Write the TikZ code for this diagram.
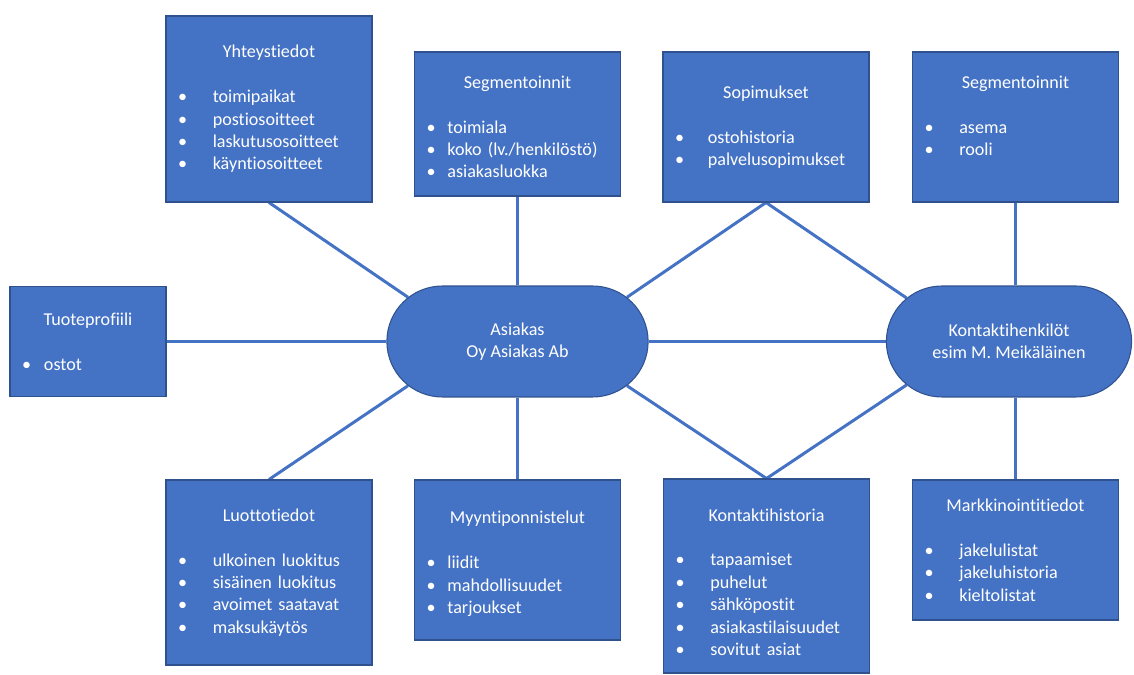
\documentclass[tikz,border=0pt]{standalone}
\usepackage{fontspec}
\setmainfont{Carlito}[Ligatures=NoCommon]
\usetikzlibrary{shapes.misc, backgrounds}
\definecolor{boxblue}{HTML}{4472C4}
\definecolor{edgeblue}{HTML}{2F528F}
\newcommand{\boxhead}[1]{{\noindent\centering #1\par}\vspace{\baselineskip}}
\newcommand{\bitem}[2][19.8pt]{\noindent\makebox[#1][l]{\textbullet}#2\par}
\tikzset{
  infobox/.style={rectangle, draw=edgeblue, fill=boxblue, line width=0.6pt,
                  text=white, text width=3.64cm, inner xsep=0.24cm,
                  font=\fontsize{10.3pt}{12.75pt}\selectfont},
  hub/.style={rounded rectangle, draw=edgeblue, fill=boxblue, line width=0.6pt,
              text=white, align=center, minimum height=2.22cm,
              font=\fontsize{10.3pt}{12.75pt}\selectfont},
  link/.style={draw=boxblue, line width=1.7pt},
}
\begin{document}
\begin{tikzpicture}[x=0.02cm, y=-0.02cm]
  \useasboundingbox (0,0) rectangle (1134,675);
  \node[hub, minimum width=5.46cm] (asiakas) at (517.5,341.5) {Asiakas\\Oy Asiakas Ab};
  \node[hub, minimum width=5.14cm] (kontakti) at (1009,341.5) {Kontaktihenkilöt\\esim M. Meikäläinen};
  \node[infobox, minimum height=3.72cm] (yht) at (269,109)
    {\boxhead{Yhteystiedot}\bitem{toimipaikat}\bitem{postiosoitteet}\bitem{laskutusosoitteet}\bitem{käyntiosoitteet}};
  \node[infobox, minimum height=2.88cm] (seg) at (517.5,124)
    {\boxhead{Segmentoinnit}\bitem[11.9pt]{toimiala}\bitem[11.9pt]{koko (lv./henkilöstö)}\bitem[11.9pt]{asiakasluokka}\vspace{-0.12cm}};
  \node[infobox, minimum height=3.0cm] (sop) at (766,127)
    {\boxhead{Sopimukset}\bitem[18.7pt]{ostohistoria}\bitem[18.7pt]{palvelusopimukset}};
  \node[infobox, minimum height=3.0cm] (segk) at (1015.5,127)
    {\boxhead{Segmentoinnit}\bitem{asema}\bitem{rooli}\vspace{0.44cm}};
  \node[infobox, minimum height=2.2cm, text width=2.64cm] (tuote) at (88,341.5)
    {\boxhead{Tuoteprofiili}\bitem[12.5pt]{ostot}};
  \node[infobox, minimum height=3.7cm] (luotto) at (269,572.5)
    {\boxhead{Luottotiedot}\bitem{ulkoinen luokitus}\bitem{sisäinen luokitus}\bitem{avoimet saatavat}\bitem{maksukäytös}};
  \node[infobox, minimum height=3.2cm] (myynti) at (517.5,560)
    {\boxhead{Myyntiponnistelut}\bitem[11.9pt]{liidit}\bitem[11.9pt]{mahdollisuudet}\bitem[11.9pt]{tarjoukset}\vspace{-0.16cm}};
  \node[infobox, minimum height=3.88cm] (khist) at (766.5,576)
    {\boxhead{Kontaktihistoria}\bitem{tapaamiset}\bitem{puhelut}\bitem{sähköpostit}\bitem{asiakastilaisuudet}\bitem{sovitut asiat}\vspace{-0.24cm}};
  \node[infobox, minimum height=2.8cm] (markk) at (1015.5,550)
    {\boxhead{Markkinointitiedot}\bitem{jakelulistat}\bitem{jakeluhistoria}\bitem{kieltolistat}};
  \begin{scope}[on background layer]
    \foreach \a/\b in {yht.south/asiakas.158, seg.south/asiakas.north, sop.south/asiakas.22,
                       sop.south/kontakti.157, tuote.east/asiakas.west, asiakas.east/kontakti.west,
                       luotto.north/asiakas.202, myynti.north/asiakas.south,
                       khist.north/asiakas.338, khist.north/kontakti.203} {
      \draw[link] (\a) -- (\b);
    }
    \draw[link] (segk.south) -- (segk.south |- kontakti.north);
    \draw[link] (markk.north) -- (markk.north |- kontakti.south);
  \end{scope}
\end{tikzpicture}
\end{document}
